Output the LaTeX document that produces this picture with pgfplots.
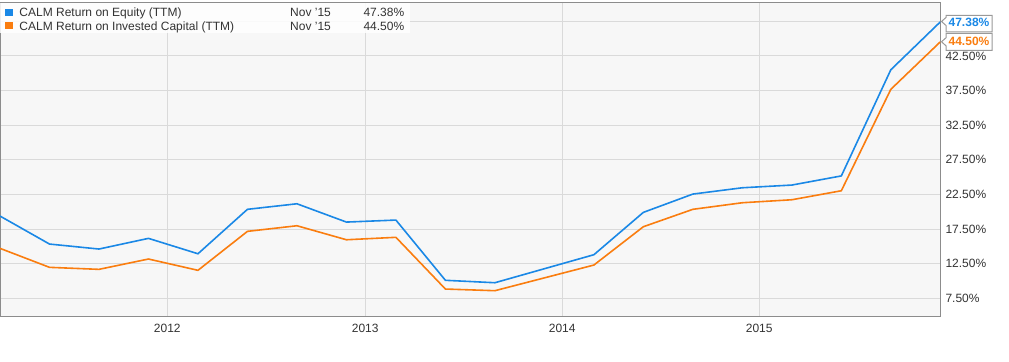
\documentclass[border=0pt]{standalone}
\usepackage{fontspec}
\setmainfont{Liberation Sans}
\usepackage{pgfplots}
\pgfplotsset{compat=1.18}
\definecolor{blueline}{HTML}{1A88E6}
\definecolor{orangeline}{HTML}{FA7D0F}
\definecolor{plotbg}{HTML}{F7F7F7}
\definecolor{gridc}{HTML}{DADADA}
\definecolor{framec}{HTML}{8C8C8C}
\definecolor{tagc}{HTML}{999999}
\definecolor{txt}{HTML}{333333}
\begin{document}
\fontsize{12bp}{14bp}\selectfont
\begin{tikzpicture}
\path[use as bounding box] (0,0) rectangle (1009bp,362bp);
\begin{axis}[
  at={(0bp,46bp)}, anchor=south west,
  scale only axis, width=940.3bp, height=313.3bp,
  xmin=0, xmax=19, ymin=4.95, ymax=50.15,
  axis background/.style={fill=plotbg},
  axis line style={framec, line width=1bp},
  xtick={3.38,7.38,11.36,15.34},
  xticklabels={2012,2013,2014,2015},
  ytick={7.5,12.5,17.5,22.5,27.5,32.5,37.5,42.5,47.5},
  yticklabels={7.50\%,12.50\%,17.50\%,22.50\%,27.50\%,32.50\%,37.50\%,42.50\%,{}},
  major tick length=0pt,
  grid=major,
  major grid style={gridc, line width=1bp},
  yticklabel pos=right,
  tick label style={font=\fontsize{12bp}{14bp}\selectfont, text=txt, inner sep=0pt},
  yticklabel style={anchor=base west, xshift=5bp, yshift=-4.3bp},
  xticklabel style={anchor=base, yshift=-16bp},
  clip=true,
]
\addplot[orangeline, line width=1.6bp] coordinates {
(0,14.71) (1,11.97) (2,11.68) (3,13.17) (4,11.54) (5,17.16) (6,17.97)
(7,15.95) (8,16.30) (9,8.84) (10,8.60) (12,12.30) (13,17.83) (14,20.34)
(15,21.29) (16,21.72) (17,23.02) (18,37.65) (19,44.50)};
\addplot[blueline, line width=1.6bp] coordinates {
(0,19.37) (1,15.33) (2,14.61) (3,16.15) (4,13.93) (5,20.34) (6,21.14)
(7,18.50) (8,18.79) (9,10.10) (10,9.75) (12,13.79) (13,19.90) (14,22.54)
(15,23.45) (16,23.84) (17,25.16) (18,40.47) (19,47.38)};
\end{axis}
\begin{scope}[yshift=362bp, x=1bp, y=-1bp]
  % legend
  \fill[white, opacity=0.85] (0.5,3) rectangle (410,33);
  \fill[blueline] (5,9) rectangle (12.5,16.5);
  \fill[orangeline] (5,22) rectangle (12.5,29.5);
  \node[anchor=base west, inner sep=0, text=txt] at (19.3,16.6) {CALM Return on Equity (TTM)};
  \node[anchor=base west, inner sep=0, text=txt] at (19.3,30.4) {CALM Return on Invested Capital (TTM)};
  \node[anchor=base west, inner sep=0, text=txt] at (290,16.6) {Nov \char"27 15};
  \node[anchor=base west, inner sep=0, text=txt] at (290,30.4) {Nov \char"27 15};
  \node[anchor=base west, inner sep=0, text=txt] at (363.3,16.6) {47.38\%};
  \node[anchor=base west, inner sep=0, text=txt] at (363.3,30.4) {44.50\%};
  % end tags
  \filldraw[fill=white, draw=tagc, line width=1bp]
    (941.5,21.5) -- (946,17.5) -- (946,15.5) -- (992,15.5) -- (992,32) -- (946,32) -- (946,25.5) -- cycle;
  \node[anchor=base, inner sep=0, text=blueline, font=\fontsize{12bp}{14bp}\selectfont\bfseries] at (969,27) {47.38\%};
  \filldraw[fill=white, draw=tagc, line width=1bp]
    (941.5,41.8) -- (946,37.8) -- (946,33.5) -- (992,33.5) -- (992,50.5) -- (946,50.5) -- (946,45.8) -- cycle;
  \node[anchor=base, inner sep=0, text=orangeline, font=\fontsize{12bp}{14bp}\selectfont\bfseries] at (969,45.7) {44.50\%};
\end{scope}
\end{tikzpicture}
\end{document}
